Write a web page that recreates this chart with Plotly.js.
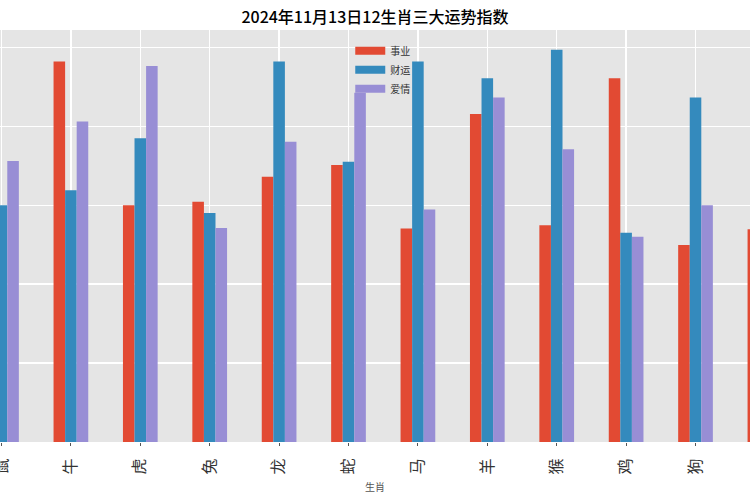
<!DOCTYPE html>
<html>
<head>
<meta charset="utf-8">
<script src="https://cdn.plot.ly/plotly-3.0.1.min.js"></script>
<style>html,body{margin:0;padding:0;background:#fff;}#chart{width:750px;height:500px;}</style>
</head>
<body>
<div id="chart"></div>
<script>
const categories = ['鼠','牛','虎','兔','龙','蛇','马','羊','猴','鸡','狗','猪'];
const career = [55, 96.4, 60, 60.9, 67.2, 70.2, 54.1, 83.1, 54.9, 92.2, 49.9, 53.9];
const wealth = [60, 63.8, 77, 58, 96.4, 71, 96.4, 92.2, 99.4, 53, 87.3, 70];
const love   = [71.2, 81.2, 95.3, 54.2, 76.1, 88.5, 58.9, 87.3, 74.2, 52, 60, 65];
const seriesNames = ['事业','财运','爱情'];
const colors = ['#E24A33','#348ABD','#988ED5'];
const values = [career, wealth, love];

const font = '"Noto Sans CJK SC", "Noto Sans", sans-serif';
const traces = [];
values.forEach((v, i) => {
  traces.push({type:'bar', x:categories, y:v, name:seriesNames[i],
    marker:{color:colors[i], line:{width:0}}, showlegend:false});
});
// legend entries (patch-style)
values.forEach((v, i) => {
  traces.push({type:'scatter', mode:'lines', x:[null], y:[null], name:seriesNames[i],
    line:{color:colors[i], width:8}, hoverinfo:'skip'});
});

const layout = {
  width:750, height:500,
  margin:{l:0, r:0, t:30, b:58, pad:0},
  paper_bgcolor:'#ffffff', plot_bgcolor:'#E5E5E5',
  barmode:'group', bargap:0.5, bargroupgap:0,
  title:{text:'2024年11月13日12生肖三大运势指数', x:0.5, xanchor:'center', y:0.966, yanchor:'middle',
    font:{family:font, size:16, color:'#000', weight:500}},
  xaxis:{type:'category', range:[-0.0216, 10.785], showgrid:true, gridcolor:'#ffffff', gridwidth:1.3,
    ticks:'outside', ticklen:3, tickcolor:'#555', tickangle:-90, ticklabelstandoff:6,
    tickfont:{family:font, size:16, color:'#333'}, zeroline:false, showline:false,
    title:{text:'生肖', font:{family:font, size:10, color:'#555'}, standoff:10}},
  yaxis:{range:[0, 104.4], dtick:20, showgrid:true, gridcolor:'#ffffff', gridwidth:1.3,
    showticklabels:false, ticks:'', zeroline:false, showline:false},
  legend:{x:0.467, xanchor:'left', y:0.985, yanchor:'top', bgcolor:'rgba(0,0,0,0)',
    font:{family:font, size:10, color:'#333'}, tracegroupgap:0},
  showlegend:true
};
Plotly.newPlot('chart', traces, layout, {staticPlot:true, displayModeBar:false});
</script>
</body>
</html>
